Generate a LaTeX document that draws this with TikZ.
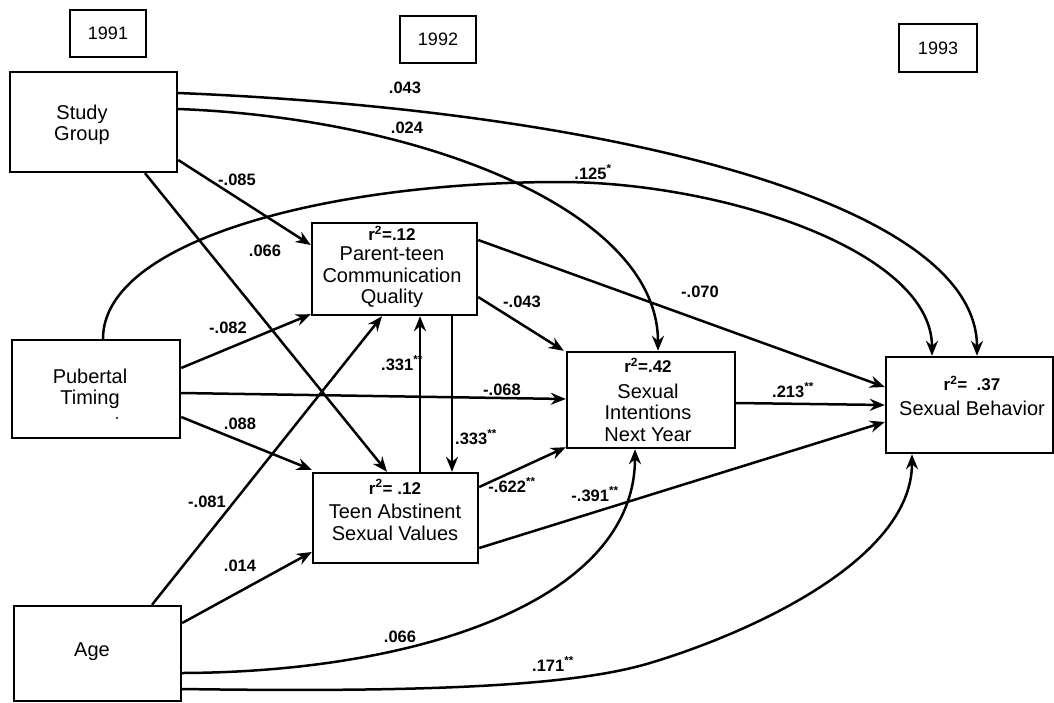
\documentclass[tikz,border=0pt]{standalone}
\usepackage{fontspec}
\setmainfont{Liberation Sans}
\usetikzlibrary{arrows.meta,calc}
\newcommand{\rsq}[1]{{\bfseries\fontsize{17}{18}\selectfont r\textsuperscript{2}#1}}
\newcommand{\stars}{\textsuperscript{**}}
\begin{document}
\begin{tikzpicture}[x=1pt,y=-1pt,
  box/.style={draw, line width=2.4pt, rectangle, inner sep=0pt},
  boxtxt/.style={align=center, font=\fontsize{20}{21.5}\selectfont, inner sep=0pt},
  yeartxt/.style={font=\fontsize{18}{20}\selectfont},
  lab/.style={font=\bfseries\fontsize{16.5}{18}\selectfont, inner sep=1pt},
  conn/.style={line width=2.5pt, -{Stealth[length=15pt,width=12pt,inset=5pt]}},
]
\useasboundingbox (0,0) rectangle (1054,702);
% year boxes
\node[box, yeartxt, minimum width=76pt, minimum height=47pt] (y91) at (108,33.5) {1991};
\node[box, yeartxt, minimum width=76pt, minimum height=47pt] (y92) at (438,39.5) {1992};
\node[box, yeartxt, minimum width=78pt, minimum height=48pt] (y93) at (938,48) {1993};
% variable boxes
\node[box, minimum width=167pt, minimum height=100pt] (SG) at (93.5,122) {};
\node[boxtxt] (SGt) at (82,125) {Study\\Group};
\node[box, minimum width=168pt, minimum height=98pt] (PT) at (96,389) {};
\node[boxtxt] (PTt) at (90,389) {Pubertal\\Timing};
\fill (117,418) circle (1.2);
\node[box, minimum width=167pt, minimum height=95pt] (Age) at (97.5,653.5) {};
\node[boxtxt] (Aget) at (92,652) {Age};
\node[box, minimum width=165pt, minimum height=92pt] (PC) at (394.5,269) {};
\node[boxtxt] (PCt) at (392,267) {\rsq{=.12}\\[-1pt]Parent-teen\\Communication\\Quality};
\node[box, minimum width=165pt, minimum height=90pt] (TA) at (395.5,518) {};
\node[boxtxt] (TAt) at (395,510) {\rsq{= .12}\\[3pt]Teen Abstinent\\Sexual Values};
\node[box, minimum width=168pt, minimum height=96pt] (SI) at (651,400) {};
\node[boxtxt] (SIt) at (648,400) {\rsq{=.42}\\[4pt]Sexual\\Intentions\\Next Year};
\node[box, minimum width=167pt, minimum height=96pt] (SB) at (969.5,405) {};
\node[boxtxt] (SBt) at (972,396) {\rsq{=\ \ .37}\\[4pt]Sexual Behavior};

% connectors
\draw[conn] ($(SG.east)+(0,-29)$) .. controls (600,110) and (977,200) .. ($(SB.north)+(7.5,0)$);
\draw[conn] ($(SG.east)+(0,-13)$) .. controls (420,118) and (658,210) .. ($(SI.north)+(7,0)$);
\draw[conn] ($(PT.north)+(7,0)$) .. controls (103,240) and (330,182) .. (560,182) .. controls (720,182) and (932,250) .. ($(SB.north)+(-37.5,0)$);
\draw[conn] ($(SG.east)+(0,38)$) -- ($(PC.west)+(0,-24)$);
\draw[conn] ($(SG.south)+(51.5,0)$) -- ($(TA.north)+(-8.5,0)$);
\draw[conn] ($(PT.east)+(0,-21)$) -- ($(PC.south west)+(0,-2)$);
\draw[conn] ($(PT.east)+(0,4)$) -- ($(SI.west)+(0,-1)$);
\draw[conn] ($(PT.east)+(0,28)$) -- ($(TA.north west)+(0,-2)$);
\draw[conn] ($(Age.north)+(54.5,0)$) -- ($(PC.south)+(-12.5,0)$);
\draw[conn] ($(Age.east)+(0,-30.5)$) -- ($(TA.west)+(0,34)$);
\draw[conn] ($(TA.north)+(24.5,0)$) -- ($(PC.south)+(25.5,0)$);
\draw[conn] ($(PC.south)+(57.5,0)$) -- ($(TA.north)+(56.5,0)$);
\draw[conn] ($(PC.east)+(0,28)$) -- ($(SI.north west)+(-2,0)$);
\draw[conn] ($(PC.east)+(0,-29)$) -- ($(SB.west)+(0,-18)$);
\draw[conn] ($(SI.east)+(0,3)$) -- ($(SB.west)+(0,0)$);
\draw[conn] ($(TA.east)+(0,-31)$) -- ($(SI.south west)+(0,-2)$);
\draw[conn] ($(TA.east)+(0,30)$) -- ($(SB.west)+(0,17)$);
\draw[conn] ($(Age.east)+(0,19.5)$) .. controls (420,672) and (635,600) .. ($(SI.south)+(-16,0)$);
\draw[conn] ($(Age.east)+(0,35.5)$) .. controls (450,693) and (580,684) .. (650,663) .. controls (750,633) and (912,560) .. ($(SB.south)+(-57.5,0)$);

% labels
\node[lab] (l1) at (405,88) {.043};
\node[lab] (l2) at (407,128) {.024};
\node[lab] (l3) at (593,172) {.125\textsuperscript{*}};
\node[lab] (l4) at (237,180) {-.085};
\node[lab] (l5) at (265,251) {.066};
\node[lab] (l6) at (228,328) {-.082};
\node[lab] (l7) at (502,390) {-.068};
\node[lab] (l8) at (240,424) {.088};
\node[lab] (l9) at (207,502) {-.081};
\node[lab] (l10) at (240,566) {.014};
\node[lab] (l11) at (402,363) {.331\stars};
\node[lab] (l12) at (476,437) {.333\stars};
\node[lab] (l13) at (522,302) {-.043};
\node[lab] (l14) at (700,292) {-.070};
\node[lab] (l15) at (793,390) {.213\stars};
\node[lab] (l16) at (512,485) {-.622\stars};
\node[lab] (l17) at (595,494) {-.391\stars};
\node[lab] (l18) at (400,637) {.066};
\node[lab] (l19) at (553,664) {.171\stars};
\end{tikzpicture}
\end{document}
